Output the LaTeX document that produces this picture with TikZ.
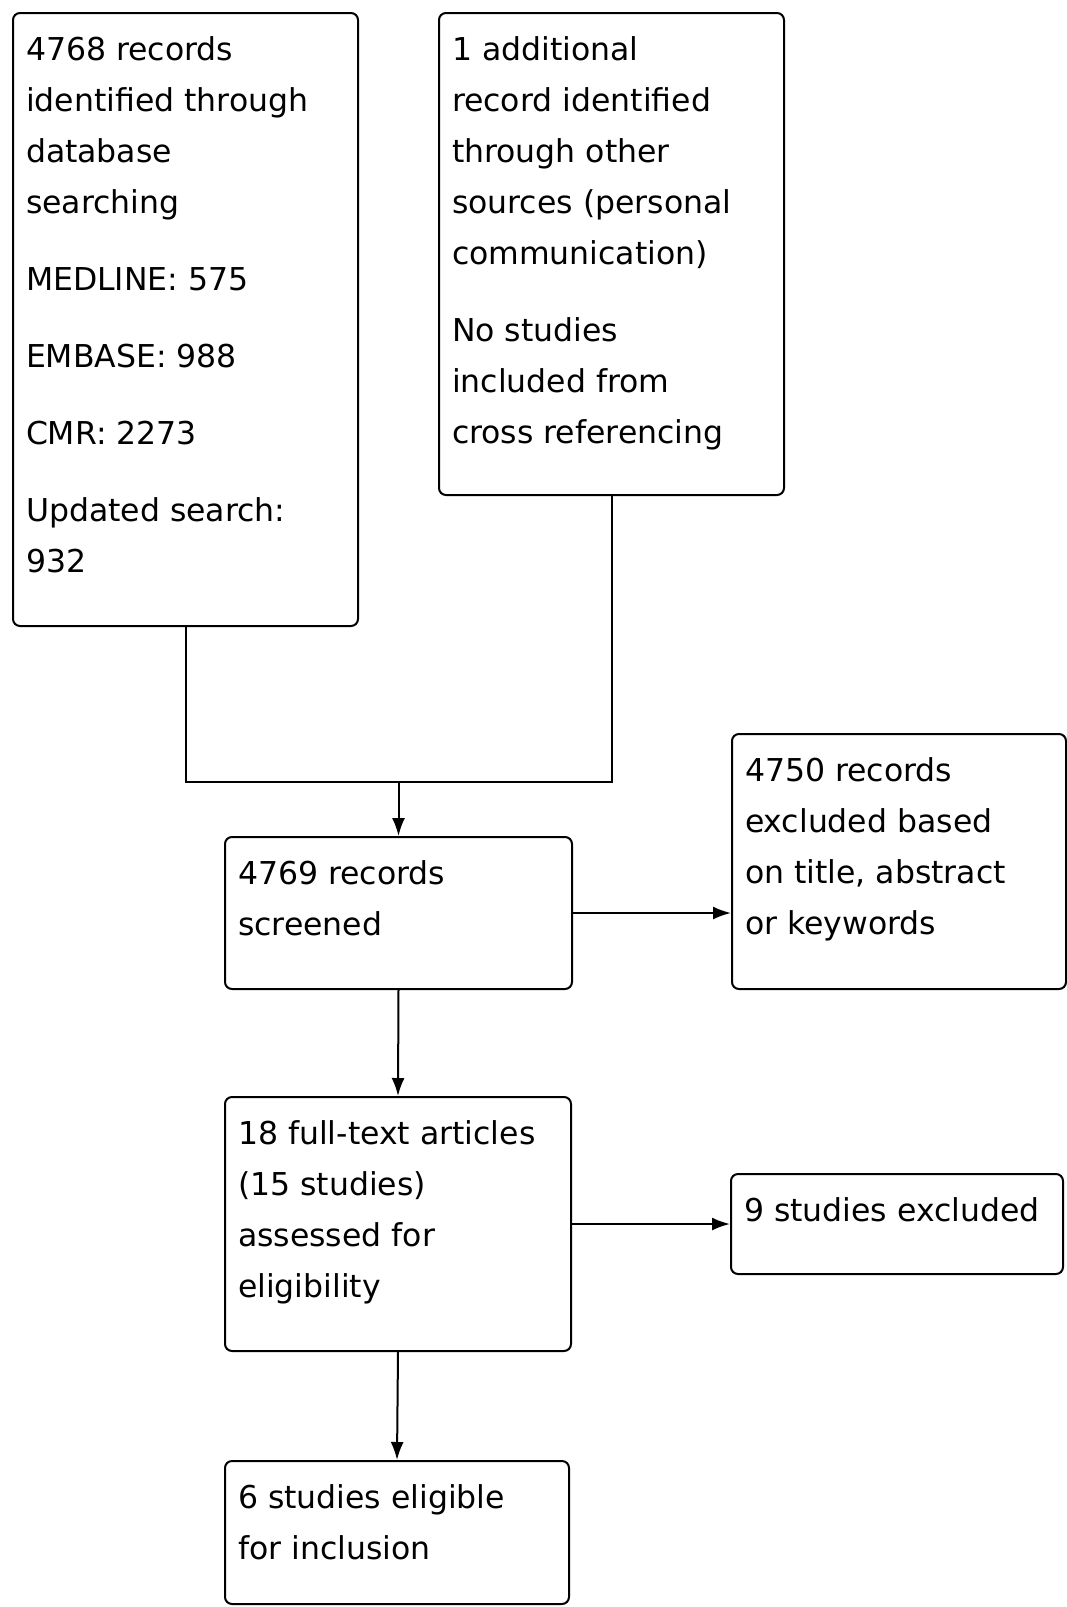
\documentclass[tikz,border=0pt]{standalone}
\usepackage{fontspec}
\setmainfont{DejaVu Sans}
\usetikzlibrary{arrows.meta}
\newcommand{\boxtxt}[3]{\parbox[b][#2pt][t]{#1pt}{\raggedright\fontsize{31.5pt}{51pt}\selectfont\rule{0pt}{47pt}#3}}
\tikzset{
  flowbox/.style={draw, line width=2pt, rounded corners=7pt, inner xsep=13pt, inner ysep=0pt, anchor=north west},
  conn/.style={line width=2pt},
  arr/.style={line width=2pt, -{Latex[length=18pt,width=13pt]}}
}
\begin{document}
\begin{tikzpicture}[x=1pt,y=-1pt]
\useasboundingbox (0,0) rectangle (1067,1607);
\node[flowbox] (A) at (12,12) {\boxtxt{319}{613}{4768 records\\identified through\\database\\searching\\[26pt]MEDLINE: 575\\[26pt]EMBASE: 988\\[26pt]CMR: 2273\\[26pt]Updated search:\\932}};
\node[flowbox] (B) at (438,12) {\boxtxt{319}{482}{1 additional\\record identified\\through other\\sources (personal\\communication)\\[26pt]No studies\\included from\\cross referencing}};
\node[flowbox] (S) at (224,836) {\boxtxt{321}{152}{4769 records\\screened}};
\node[flowbox] (E1) at (731,733) {\boxtxt{308}{255}{4750 records\\excluded based\\on title, abstract\\or keywords}};
\node[flowbox] (F) at (224,1096) {\boxtxt{320}{254}{18 full-text articles\\(15 studies)\\assessed for\\eligibility}};
\node[flowbox] (E2) at (730,1173) {\boxtxt{306}{100}{9 studies excluded}};
\node[flowbox] (I) at (224,1460) {\boxtxt{318}{143}{6 studies eligible\\for inclusion}};
\coordinate (J) at (S.north |- 0,782);
\draw[conn] (A.south) -- (A.south |- J) -- (B.south |- J) -- (B.south);
\draw[arr] (J) -- (S.north);
\draw[arr] (S.east) -- (S.east -| E1.west);
\draw[arr] (S.south) -- (F.north);
\draw[arr] (F.east) -- (F.east -| E2.west);
\draw[arr] (F.south) -- (I.north);
\end{tikzpicture}
\end{document}
